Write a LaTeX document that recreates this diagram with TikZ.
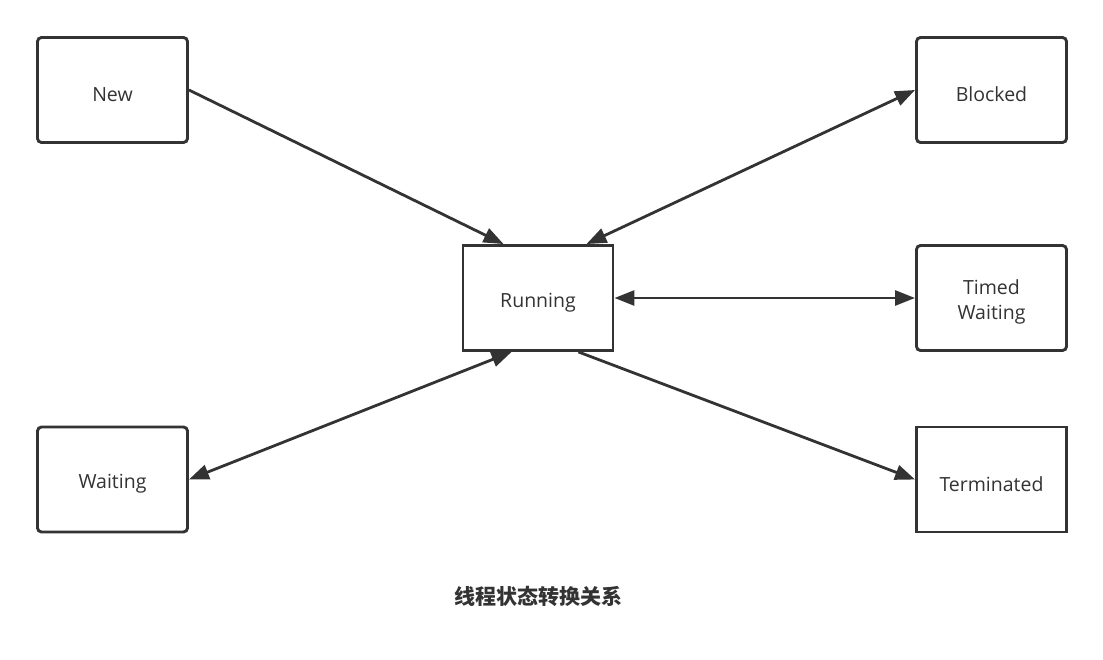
\documentclass[tikz,border=0pt]{standalone}
\usepackage{fontspec}
\setmainfont{Open Sans}
\newfontfamily\cjk{Noto Sans CJK SC}
\usetikzlibrary{arrows.meta,calc}
\definecolor{ink}{HTML}{333333}
\newcommand\lowtxt[1]{\raisebox{-4.5pt}[\height][\depth]{#1}}
\tikzset{
  x=1pt,y=-1pt,
  state/.style={draw=ink,line width=2.9pt,minimum width=150pt,minimum height=105pt,inner sep=0pt,fill=white,text=ink,font=\fontsize{19.5}{25}\selectfont},
  roundstate/.style={state,rounded corners=4pt},
  conn/.style={draw=ink,line width=2.8pt},
  tip/.tip={Triangle[length=20pt,width=15pt]},
}
\begin{document}
\begin{tikzpicture}
\useasboundingbox (0,0) rectangle (1103,660);
\node[roundstate] (new) at (112.5,90) {\lowtxt{New}};
\node[roundstate] (blocked) at (991.5,90) {\lowtxt{Blocked}};
\node[state] (run) at (538,298) {\lowtxt{Running}};
\node[roundstate] (timed) at (991.5,298) {\lowtxt{\begin{tabular}{@{}c@{}}Timed\\Waiting\end{tabular}}};
\node[roundstate] (wait) at (112.5,479.5) {\lowtxt{Waiting}};
\node[state] (term) at (991.5,479.5) {\lowtxt{Terminated}};
\node[text=ink,font=\cjk\bfseries\fontsize{21}{25}\selectfont] (title) at (538,596) {线程状态转换关系};

\draw[conn,-{tip}] (new.east) -- ([xshift=42pt]run.north west);
\draw[conn,{tip}-{tip}] ([xshift=-28pt]run.north east) -- (blocked.west);
\draw[conn,{tip}-{tip}] (run.east) -- (timed.west);
\draw[conn,{tip}-{tip}] ([xshift=50pt]run.south west) -- (wait.east);
\draw[conn,-{tip}] ([xshift=-36pt]run.south east) -- (term.west);
\end{tikzpicture}
\end{document}
